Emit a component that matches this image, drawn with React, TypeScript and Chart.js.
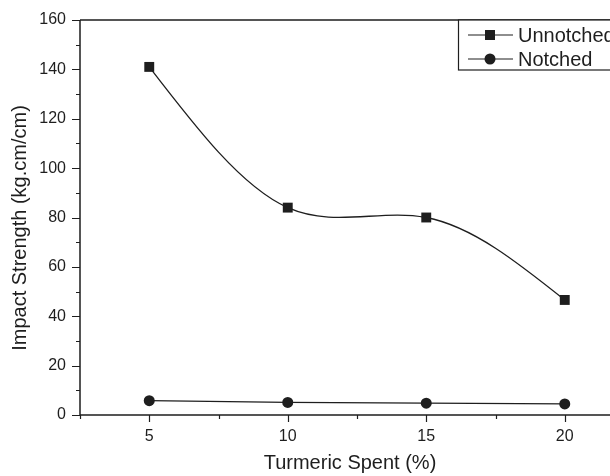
import React, { useEffect, useRef } from "react";
import { Chart, registerables } from "chart.js";

Chart.register(...registerables);

const turmericSpent = [5, 10, 15, 20];
const unnotchedValues = [141, 84, 80, 46.6];
const notchedValues = [5.8, 5.1, 4.8, 4.5];
const seriesNames = ["Unnotched", "Notched"];
const xMajorTicks = [5, 10, 15, 20];
const xMinorTicks = [2.5, 7.5, 12.5, 17.5, 22.5];
const yMajorTicks = [0, 20, 40, 60, 80, 100, 120, 140, 160];
const yMinorTicks = [10, 30, 50, 70, 90, 110, 130, 150];
const xTitle = "Turmeric Spent (%)";
const yTitle = "Impact Strength (kg.cm/cm)";

const FONT = "'Liberation Sans', Arial, Helvetica, sans-serif";
const INK = "#1e1e1e";

// Natural cubic spline control points (Origin-style spline connection),
// computed on the element positions that Chart.js produced.
const naturalSplinePlugin = {
  id: "naturalSpline",
  beforeDatasetDraw(chart: any, args: any) {
    if (args.index !== 0) return;
    const meta = chart.getDatasetMeta(0);
    const line = meta.dataset;
    const pts = meta.data;
    const n = pts.length;
    if (n < 3) return;
    line.updateControlPoints(chart.chartArea, "x");
    const xs = pts.map((p: any) => p.x);
    const ys = pts.map((p: any) => p.y);
    const h: number[] = [];
    for (let i = 0; i < n - 1; i++) h.push(xs[i + 1] - xs[i]);
    const a: number[] = new Array(n).fill(0);
    const b: number[] = new Array(n).fill(1);
    const c: number[] = new Array(n).fill(0);
    const d: number[] = new Array(n).fill(0);
    for (let i = 1; i < n - 1; i++) {
      a[i] = h[i - 1];
      b[i] = 2 * (h[i - 1] + h[i]);
      c[i] = h[i];
      d[i] = 6 * ((ys[i + 1] - ys[i]) / h[i] - (ys[i] - ys[i - 1]) / h[i - 1]);
    }
    for (let i = 1; i < n; i++) {
      const m = a[i] / b[i - 1];
      b[i] -= m * c[i - 1];
      d[i] -= m * d[i - 1];
    }
    const M: number[] = new Array(n).fill(0);
    M[n - 1] = d[n - 1] / b[n - 1];
    for (let i = n - 2; i >= 0; i--) M[i] = (d[i] - c[i] * M[i + 1]) / b[i];
    const slope: number[] = [];
    for (let i = 0; i < n - 1; i++) {
      slope.push((ys[i + 1] - ys[i]) / h[i] - (h[i] * (2 * M[i] + M[i + 1])) / 6);
    }
    slope.push(
      (ys[n - 1] - ys[n - 2]) / h[n - 2] + (h[n - 2] * (M[n - 2] + 2 * M[n - 1])) / 6
    );
    for (let i = 0; i < n; i++) {
      const p = pts[i];
      if (i > 0) {
        const hh = h[i - 1] / 3;
        p.cp1x = xs[i] - hh;
        p.cp1y = ys[i] - hh * slope[i];
      } else {
        p.cp1x = xs[i];
        p.cp1y = ys[i];
      }
      if (i < n - 1) {
        const hh = h[i] / 3;
        p.cp2x = xs[i] + hh;
        p.cp2y = ys[i] + hh * slope[i];
      } else {
        p.cp2x = xs[i];
        p.cp2y = ys[i];
      }
    }
    line._pointsUpdated = true;
  },
};

const framePlugin = {
  id: "originFrame",
  afterDraw(chart: any) {
    const { ctx, chartArea } = chart;
    const xs = chart.scales.x;
    const ys = chart.scales.y;
    const { left, right, top, bottom } = chartArea;
    ctx.save();
    ctx.strokeStyle = INK;
    ctx.lineWidth = 1.5;
    ctx.beginPath();
    ctx.moveTo(left, top);
    ctx.lineTo(right, top);
    ctx.moveTo(left, top);
    ctx.lineTo(left, bottom);
    ctx.lineTo(right, bottom);
    ctx.moveTo(right, top);
    ctx.lineTo(right, bottom);
    ctx.stroke();

    ctx.lineWidth = 1.2;
    ctx.beginPath();
    xMajorTicks.forEach((v) => {
      const px = Math.round(xs.getPixelForValue(v)) + 0.5;
      ctx.moveTo(px, bottom);
      ctx.lineTo(px, bottom + 7);
    });
    xMinorTicks.forEach((v) => {
      const px = Math.round(xs.getPixelForValue(v)) + 0.5;
      ctx.moveTo(px, bottom);
      ctx.lineTo(px, bottom + 4);
    });
    yMajorTicks.forEach((v) => {
      const py = Math.round(ys.getPixelForValue(v)) + 0.5;
      ctx.moveTo(left, py);
      ctx.lineTo(left - 8, py);
    });
    yMinorTicks.forEach((v) => {
      const py = Math.round(ys.getPixelForValue(v)) + 0.5;
      ctx.moveTo(left, py);
      ctx.lineTo(left - 4, py);
    });
    ctx.stroke();

    // axis titles
    ctx.fillStyle = INK;
    ctx.font = `20px ${FONT}`;
    ctx.textAlign = "center";
    ctx.textBaseline = "middle";
    ctx.fillText(xTitle, 350, 463);
    ctx.save();
    ctx.translate(20, 228);
    ctx.rotate(-Math.PI / 2);
    ctx.fillText(yTitle, 0, 0);
    ctx.restore();

    // legend box
    const bx = 458.5;
    const by = top;
    const bw = right - bx;
    const bh = 50;
    ctx.fillStyle = "#ffffff";
    ctx.fillRect(bx, by, bw, bh);
    ctx.lineWidth = 1.2;
    ctx.strokeStyle = INK;
    ctx.strokeRect(bx, by, bw, bh);

    const rows = [by + 15, by + 39];
    ctx.font = `20px ${FONT}`;
    ctx.textBaseline = "middle";
    ctx.textAlign = "left";
    rows.forEach((ry, i) => {
      ctx.strokeStyle = INK;
      ctx.lineWidth = 1.2;
      ctx.beginPath();
      ctx.moveTo(468, ry);
      ctx.lineTo(513, ry);
      ctx.stroke();
      ctx.fillStyle = INK;
      if (i === 0) {
        ctx.fillRect(490 - 5, ry - 5, 10, 10);
      } else {
        ctx.beginPath();
        ctx.arc(490, ry, 5.5, 0, Math.PI * 2);
        ctx.fill();
      }
      ctx.fillText(seriesNames[i], 518, ry + 1);
    });
    ctx.restore();
  },
};

export default function App() {
  const canvasRef = useRef<HTMLCanvasElement | null>(null);

  useEffect(() => {
    const canvas = canvasRef.current;
    if (!canvas) return;
    const chart = new Chart(canvas, {
      type: "line",
      data: {
        datasets: [
          {
            label: seriesNames[0],
            data: turmericSpent.map((x, i) => ({ x, y: unnotchedValues[i] })),
            borderColor: INK,
            backgroundColor: INK,
            borderWidth: 1.3,
            tension: 0.4,
            pointStyle: "rect",
            pointRadius: 7,
            pointBorderWidth: 0,
          },
          {
            label: seriesNames[1],
            data: turmericSpent.map((x, i) => ({ x, y: notchedValues[i] })),
            borderColor: INK,
            backgroundColor: INK,
            borderWidth: 1.3,
            tension: 0,
            pointStyle: "circle",
            pointRadius: 5.5,
            pointBorderWidth: 0,
          },
        ],
      },
      options: {
        animation: false,
        responsive: false,
        layout: { padding: { top: 20, right: 16, left: 0, bottom: 0 } },
        plugins: {
          legend: { display: false },
          tooltip: { enabled: false },
        },
        scales: {
          x: {
            type: "linear",
            min: 2.5,
            max: 22.5,
            afterBuildTicks: (scale: any) => {
              scale.ticks = xMajorTicks.map((value) => ({ value }));
            },
            afterFit: (scale: any) => {
              scale.height = 61;
              scale.paddingLeft = 0;
              scale.paddingRight = 0;
            },
            grid: { display: false, drawTicks: false },
            border: { display: false },
            ticks: {
              color: INK,
              font: { family: FONT, size: 16 },
              padding: 12,
              maxRotation: 0,
            },
          },
          y: {
            type: "linear",
            min: 0,
            max: 160,
            afterBuildTicks: (scale: any) => {
              scale.ticks = yMajorTicks.map((value) => ({ value }));
            },
            afterFit: (scale: any) => {
              scale.width = 80;
              scale.paddingTop = 0;
              scale.paddingBottom = 0;
            },
            grid: { display: false, drawTicks: false },
            border: { display: false },
            ticks: {
              color: INK,
              font: { family: FONT, size: 16 },
              padding: 14,
            },
          },
        },
      },
      plugins: [naturalSplinePlugin, framePlugin],
    });
    return () => chart.destroy();
  }, []);

  return (
    <div
      style={{
        position: "absolute",
        top: 0,
        left: 0,
        width: 610,
        height: 476,
        overflow: "hidden",
        background: "#ffffff",
      }}
    >
      <canvas ref={canvasRef} width={650} height={476} style={{ display: "block" }} />
    </div>
  );
}
